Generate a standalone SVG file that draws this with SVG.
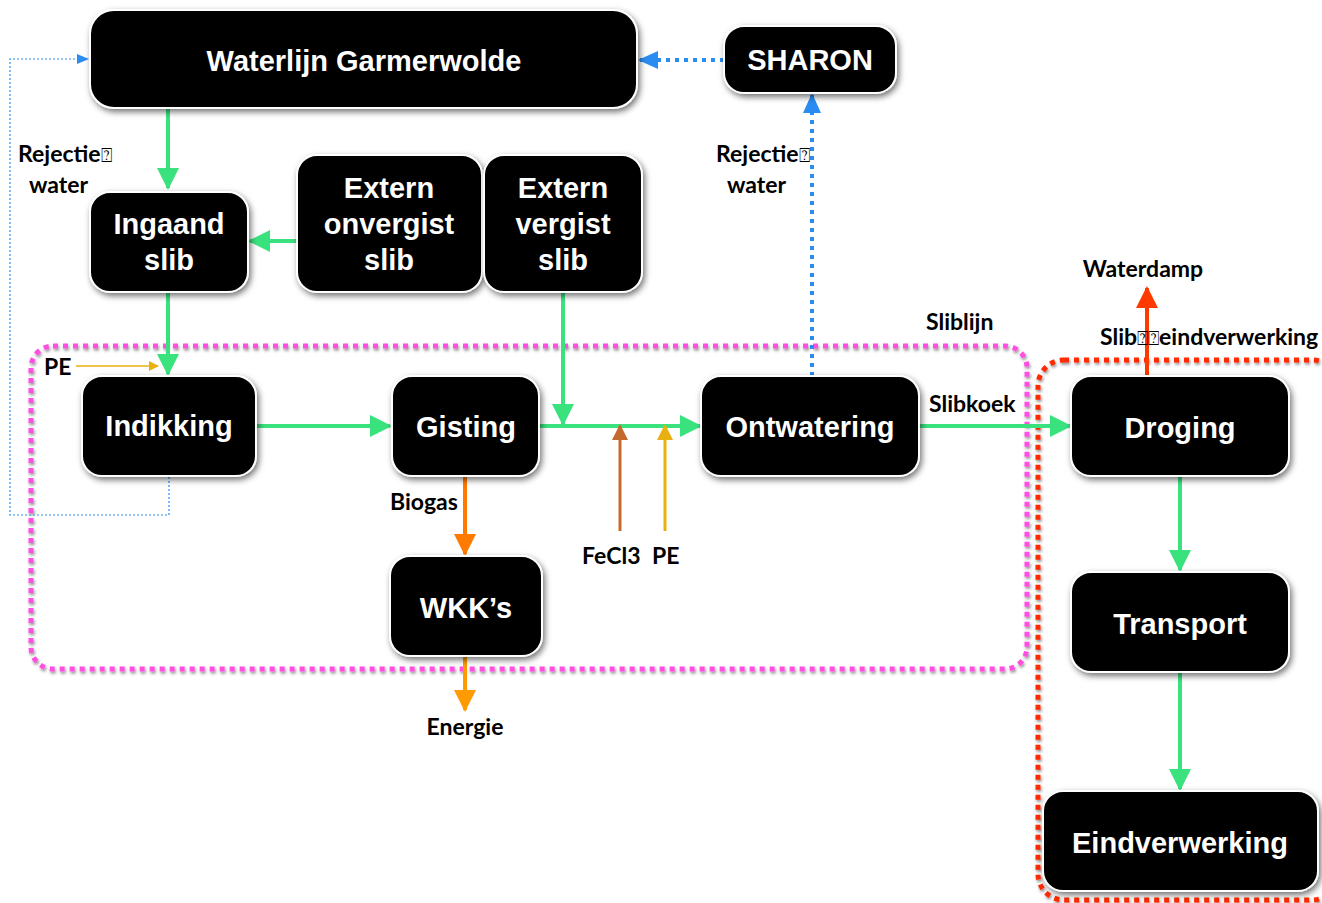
<svg xmlns="http://www.w3.org/2000/svg" width="1322" height="903" viewBox="0 0 1322 903">
<defs>
<style>
.box{fill:#000;stroke:#fff;stroke-width:2}
.nt{font-family:"Liberation Sans",Arial,sans-serif;font-weight:bold;font-size:29px;fill:#fff;text-anchor:middle}
.lb{font-family:Lato,"Open Sans",sans-serif;font-weight:bold;font-size:23px;fill:#000}
.q{font-family:"DejaVu Sans",sans-serif;font-weight:normal;font-size:19px}
.g{stroke:#3ae27e;stroke-width:4;fill:none}
</style>
<filter id="sh" x="-20%" y="-20%" width="140%" height="140%">
<feDropShadow dx="2" dy="3" stdDeviation="3" flood-color="#000" flood-opacity="0.55"/>
</filter>
<filter id="sh2" x="-5%" y="-5%" width="110%" height="110%">
<feDropShadow dx="1" dy="2" stdDeviation="1.5" flood-color="#000" flood-opacity="0.45"/>
</filter>
<marker id="agL" markerWidth="22" markerHeight="22" refX="20" refY="11" orient="auto" markerUnits="userSpaceOnUse"><path d="M0,0 L22,11 L0,22 z" fill="#3ae27e"/></marker>
<marker id="aor" markerWidth="22" markerHeight="22" refX="20" refY="11" orient="auto" markerUnits="userSpaceOnUse"><path d="M0,0 L22,11 L0,22 z" fill="#ff7a00"/></marker>
<marker id="aor2" markerWidth="22" markerHeight="22" refX="20" refY="11" orient="auto" markerUnits="userSpaceOnUse"><path d="M0,0 L22,11 L0,22 z" fill="#ff9a00"/></marker>
<marker id="ared" markerWidth="22" markerHeight="22" refX="20" refY="11" orient="auto" markerUnits="userSpaceOnUse"><path d="M0,0 L22,11 L0,22 z" fill="#ff3a00"/></marker>
<marker id="abr" markerWidth="16" markerHeight="16" refX="14" refY="8" orient="auto" markerUnits="userSpaceOnUse"><path d="M0,0 L16,8 L0,16 z" fill="#c46a2e"/></marker>
<marker id="agd" markerWidth="16" markerHeight="16" refX="14" refY="8" orient="auto" markerUnits="userSpaceOnUse"><path d="M0,0 L16,8 L0,16 z" fill="#e8b010"/></marker>
<marker id="agd2" markerWidth="10" markerHeight="10" refX="9" refY="5" orient="auto" markerUnits="userSpaceOnUse"><path d="M0,0 L10,5 L0,10 z" fill="#e8b010"/></marker>
<marker id="abl" markerWidth="20" markerHeight="20" refX="18" refY="10" orient="auto" markerUnits="userSpaceOnUse"><path d="M0,1 L20,10 L0,19 z" fill="#2a8cf0"/></marker>
<marker id="abls" markerWidth="12" markerHeight="12" refX="11" refY="6" orient="auto" markerUnits="userSpaceOnUse"><path d="M0,1 L12,6 L0,11 z" fill="#2a8cf0"/></marker>
</defs>

<g id="regions">
<rect id="sliblijn-box" x="31" y="346" width="996" height="323" rx="22" fill="none" stroke="#ff4fe0" stroke-width="5" stroke-dasharray="5 5" filter="url(#sh2)"/>
<rect id="eindverwerking-box" x="1038" y="360" width="300" height="540" rx="26" fill="none" stroke="#ff2a00" stroke-width="5" stroke-dasharray="5 5" filter="url(#sh2)"/>
</g>

<g id="connectors">
<path d="M168,108 V188" class="g" marker-end="url(#agL)"/>
<path d="M297,241 H250" class="g" marker-end="url(#agL)"/>
<path d="M168,292 V374" class="g" marker-end="url(#agL)"/>
<path d="M256,426 H390" class="g" marker-end="url(#agL)"/>
<path d="M539,426 H700" class="g" marker-end="url(#agL)"/>
<path d="M563,292 V424" class="g" marker-end="url(#agL)"/>
<path d="M919,426 H1070" class="g" marker-end="url(#agL)"/>
<path d="M1180,476 V570" class="g" marker-end="url(#agL)"/>
<path d="M1180,672 V789" class="g" marker-end="url(#agL)"/>
<path d="M465,476 V554" stroke="#ff7a00" stroke-width="4" fill="none" marker-end="url(#aor)"/>
<path d="M465,656 V710" stroke="#ff9a00" stroke-width="4" fill="none" marker-end="url(#aor2)"/>
<path d="M1147,376 V288" stroke="#ff3a00" stroke-width="4" fill="none" marker-end="url(#ared)"/>
<path d="M620,531 V426" stroke="#c46a2e" stroke-width="3" fill="none" marker-end="url(#abr)"/>
<path d="M665,531 V426" stroke="#e8b010" stroke-width="3" fill="none" marker-end="url(#agd)"/>
<path d="M76,366 H158" stroke="#e8b010" stroke-width="1.5" fill="none" marker-end="url(#agd2)"/>
<path d="M812,376 V95" stroke="#2a8cf0" stroke-width="4" stroke-dasharray="4 5" fill="none" marker-end="url(#abl)"/>
<path d="M724,60 H640" stroke="#2a8cf0" stroke-width="4" stroke-dasharray="4 5" fill="none" marker-end="url(#abl)"/>
<path d="M169,477 V515 H10 V59 H88" stroke="#2a8cf0" stroke-width="1.2" stroke-dasharray="2 2" fill="none" marker-end="url(#abls)"/>
</g>

<g id="waterlijn"><rect class="box" x="90" y="10" width="547" height="98" rx="24" filter="url(#sh)"/><text class="nt" x="364" y="71">Waterlijn Garmerwolde</text></g>
<g id="sharon"><rect class="box" x="724" y="26" width="172" height="67" rx="20" filter="url(#sh)"/><text class="nt" x="810" y="70">SHARON</text></g>
<g id="ingaand"><rect class="box" x="90" y="192" width="158" height="100" rx="20" filter="url(#sh)"/><text class="nt" x="169" y="234">Ingaand</text><text class="nt" x="169" y="270">slib</text></g>
<g id="extern-onvergist"><rect class="box" x="297" y="155" width="185" height="137" rx="20" filter="url(#sh)"/><text class="nt" x="389" y="198">Extern</text><text class="nt" x="389" y="234">onvergist</text><text class="nt" x="389" y="270">slib</text></g>
<g id="extern-vergist"><rect class="box" x="484" y="155" width="158" height="137" rx="20" filter="url(#sh)"/><text class="nt" x="563" y="198">Extern</text><text class="nt" x="563" y="234">vergist</text><text class="nt" x="563" y="270">slib</text></g>
<g id="indikking"><rect class="box" x="82" y="376" width="174" height="100" rx="20" filter="url(#sh)"/><text class="nt" x="169" y="436">Indikking</text></g>
<g id="gisting"><rect class="box" x="392" y="376" width="147" height="100" rx="20" filter="url(#sh)"/><text class="nt" x="466" y="437">Gisting</text></g>
<g id="ontwatering"><rect class="box" x="701" y="376" width="218" height="100" rx="20" filter="url(#sh)"/><text class="nt" x="810" y="437">Ontwatering</text></g>
<g id="wkk"><rect class="box" x="390" y="556" width="152" height="100" rx="20" filter="url(#sh)"/><text class="nt" x="466" y="618">WKK’s</text></g>
<g id="droging"><rect class="box" x="1071" y="376" width="218" height="100" rx="20" filter="url(#sh)"/><text class="nt" x="1180" y="438">Droging</text></g>
<g id="transport"><rect class="box" x="1071" y="572" width="218" height="100" rx="20" filter="url(#sh)"/><text class="nt" x="1180" y="634">Transport</text></g>
<g id="eindverwerking"><rect class="box" x="1043" y="791" width="275" height="100" rx="20" filter="url(#sh)"/><text class="nt" x="1180" y="853">Eindverwerking</text></g>

<g id="labels">
<text class="lb" x="18" y="162">Rejectie<tspan class="q">⍰</tspan></text>
<text class="lb" x="29" y="193">water</text>
<text class="lb" x="716" y="162">Rejectie<tspan class="q">⍰</tspan></text>
<text class="lb" x="727" y="193">water</text>
<text class="lb" x="1143" y="277" text-anchor="middle">Waterdamp</text>
<text class="lb" x="1100" y="345">Slib<tspan class="q">⍰⍰</tspan>eindverwerking</text>
<text class="lb" x="926" y="330">Sliblijn</text>
<text class="lb" x="929" y="412">Slibkoek</text>
<text class="lb" x="44" y="375">PE</text>
<text class="lb" x="390" y="510">Biogas</text>
<text class="lb" x="582" y="564">FeCl3</text>
<text class="lb" x="652" y="564">PE</text>
<text class="lb" x="465" y="735" text-anchor="middle">Energie</text>
</g>
</svg>
